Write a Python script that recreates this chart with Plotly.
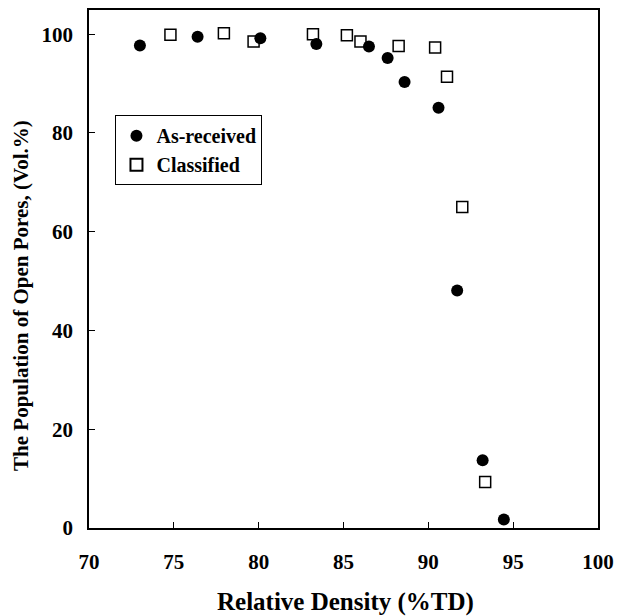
import plotly.graph_objects as go

asr_x = [73.0, 76.4, 80.1, 83.4, 86.5, 87.6, 88.6, 90.6, 91.7, 93.2, 94.45]
asr_y = [97.7, 99.5, 99.2, 98.0, 97.5, 95.2, 90.3, 85.1, 48.1, 13.7, 1.7]
cls_x = [74.8, 77.95, 79.7, 83.2, 85.2, 86.0, 88.25, 90.4, 91.1, 92.0, 93.35]
cls_y = [99.9, 100.2, 98.5, 100.0, 99.8, 98.5, 97.6, 97.3, 91.4, 65.0, 9.3]

xticks = [70, 75, 80, 85, 90, 95, 100]
yticks = [0, 20, 40, 60, 80, 100]

font = "Liberation Serif"

fig = go.Figure()
fig.add_trace(go.Scatter(x=asr_x, y=asr_y, mode="markers", name="<b>As-received</b>",
                         marker=dict(symbol="circle", size=12, color="black")))
fig.add_trace(go.Scatter(x=cls_x, y=cls_y, mode="markers", name="<b>Classified</b>",
                         marker=dict(symbol="square-open", size=11, color="black",
                                     line=dict(width=1.5, color="black"))))

fig.update_layout(
    width=617, height=616,
    margin=dict(l=89, r=19, t=10, b=88),
    paper_bgcolor="white", plot_bgcolor="white",
    font=dict(family=font, color="black", size=20),
    legend=dict(x=0.052, y=0.797, xanchor="left", yanchor="top",
                bordercolor="black", borderwidth=1, bgcolor="white",
                font=dict(family=font, size=20, color="black"),
                itemsizing="constant", tracegroupgap=0, itemwidth=30),
    showlegend=True,
    annotations=[
        dict(text="<b>Relative Density (%TD)</b>", xref="paper", yref="paper",
             x=0.503, y=-0.143, xanchor="center", yanchor="middle", showarrow=False,
             font=dict(size=25, family=font, color="black")),
        dict(text="<b>The Population of Open Pores, (Vol.%)</b>", xref="paper", yref="paper",
             x=-0.1336, y=0.45, xanchor="center", yanchor="middle", showarrow=False,
             textangle=-90, font=dict(size=21, family=font, color="black")),
    ],
)
fig.update_xaxes(
    range=[70, 100], tickvals=xticks, ticktext=[f"<b>{v}</b>" for v in xticks],
    ticks="inside", ticklen=6, tickwidth=1, tickcolor="black",
    showline=True, linecolor="black", linewidth=1.5, mirror=True,
    showgrid=False, zeroline=False, automargin=False,
    tickfont=dict(size=21, family=font), ticklabelstandoff=14,
)
fig.update_yaxes(
    range=[0, 104.9], tickvals=yticks, ticktext=[f"<b>{v}</b>" for v in yticks],
    ticks="inside", ticklen=6, tickwidth=1, tickcolor="black",
    showline=True, linecolor="black", linewidth=1.5, mirror=True,
    showgrid=False, zeroline=False, automargin=False,
    tickfont=dict(size=21, family=font), ticklabelstandoff=10,
)

fig.write_html("out.html")
